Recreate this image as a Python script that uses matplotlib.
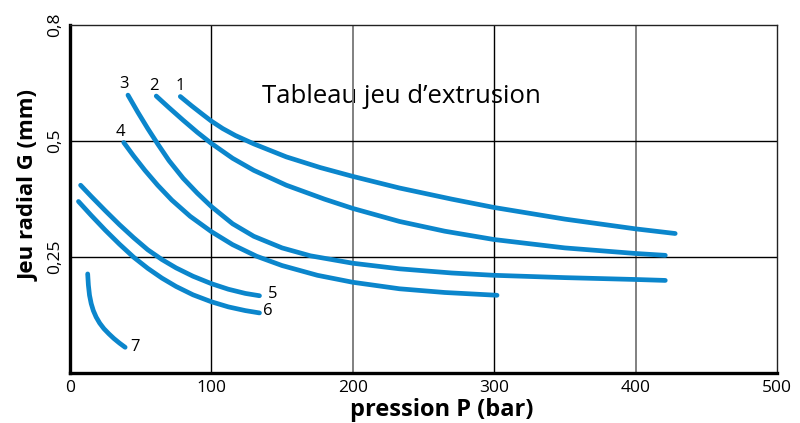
import matplotlib
matplotlib.use("Agg")
from matplotlib import pyplot as plt

plt.rcParams['font.family'] = ['Open Sans', 'DejaVu Sans']

# Curves (x = pression in bar, y = axis position)
c1_x = [78, 86, 94, 100, 108, 117, 130, 153, 177, 200, 233, 270, 300, 350, 400, 428]
c1_y = [0.596, 0.576, 0.557, 0.543, 0.527, 0.512, 0.494, 0.466, 0.443, 0.424,
        0.399, 0.375, 0.357, 0.332, 0.311, 0.301]
c2_x = [61, 70, 80, 90, 100, 115, 130, 153, 180, 200, 233, 265, 300, 350, 400, 421]
c2_y = [0.597, 0.572, 0.545, 0.519, 0.495, 0.463, 0.437, 0.405, 0.375, 0.355,
        0.327, 0.306, 0.288, 0.270, 0.258, 0.254]
c3_x = [41, 48, 55, 62, 70, 80, 90, 100, 115, 130, 150, 170, 200, 233, 270, 300, 350, 400, 421]
c3_y = [0.599, 0.562, 0.527, 0.494, 0.458, 0.420, 0.388, 0.359, 0.322, 0.295,
        0.270, 0.253, 0.237, 0.225, 0.216, 0.211, 0.206, 0.202, 0.200]
c4_x = [38, 45, 53, 62, 72, 85, 100, 115, 132, 150, 175, 200, 233, 265, 302]
c4_y = [0.497, 0.468, 0.437, 0.405, 0.373, 0.338, 0.305, 0.277, 0.252, 0.232,
        0.211, 0.196, 0.182, 0.174, 0.168]
c5_x = [7.5, 15, 25, 35, 45, 55, 65, 75, 87, 100, 112, 124, 134]
c5_y = [0.405, 0.381, 0.350, 0.320, 0.292, 0.266, 0.245, 0.227, 0.209, 0.193,
        0.181, 0.172, 0.167]
c6_x = [6, 15, 25, 35, 45, 55, 65, 75, 87, 100, 112, 124, 134]
c6_y = [0.370, 0.340, 0.308, 0.278, 0.250, 0.226, 0.205, 0.187, 0.169, 0.154,
        0.143, 0.135, 0.130]
c7_x = [12.5, 13.0, 13.8, 15, 16.5, 18.5, 21, 24, 27.5, 31, 35, 39]
c7_y = [0.214, 0.190, 0.168, 0.150, 0.135, 0.121, 0.108, 0.096, 0.085, 0.075,
        0.065, 0.056]

curves = [(c1_x, c1_y), (c2_x, c2_y), (c3_x, c3_y), (c4_x, c4_y),
          (c5_x, c5_y), (c6_x, c6_y), (c7_x, c7_y)]
curve_names = ['1', '2', '3', '4', '5', '6', '7']
label_pos = [(78, 0.619), (59, 0.619), (38.5, 0.623), (36, 0.52),
             (143, 0.171), (140, 0.134), (46, 0.057)]

x_ticks = [0, 100, 200, 300, 400, 500]
y_ticks = [0.25, 0.5, 0.75]
y_tick_labels = ['0,25', '0,5', '0,8']

fig = plt.figure(figsize=(8, 4.23), dpi=100)
ax = fig.add_axes([0.0875, 0.1175, 0.88375, 0.8234])

blue = '#0b86cc'

# grid: black at 100 / 300, grey at 200 / 400
for xv in x_ticks[1:-1]:
    col = 'black' if xv in (100, 300) else '#808080'
    lw = 1.0 if xv in (100, 300) else 1.4
    ax.axvline(xv, color=col, lw=lw, zorder=2)
for yv in y_ticks[:-1]:
    ax.axhline(yv, color='black', lw=1.0, zorder=2)

for (xs, ys) in curves:
    ax.plot(xs, ys, color=blue, lw=3.4, solid_capstyle='round',
            solid_joinstyle='round', zorder=3)

for name, (lx, ly) in zip(curve_names, label_pos):
    ax.text(lx, ly, name, fontsize=12, ha='center', va='center', zorder=4)

ax.text(136, 0.596, 'Tableau jeu d\u2019extrusion', fontsize=18.5,
        ha='left', va='center', zorder=1)

ax.set_xlim(0, 500)
ax.set_ylim(0, 0.75)
ax.set_xticks(x_ticks)
ax.set_xticklabels([str(v) for v in x_ticks], fontsize=12.5)
ax.set_yticks(y_ticks)
ax.set_yticklabels(y_tick_labels, fontsize=12.5, rotation=90, va='center')
ax.tick_params(length=0, pad=5)

ax.spines['left'].set_linewidth(2.4)
ax.spines['bottom'].set_linewidth(2.4)
ax.spines['top'].set_linewidth(1.0)
ax.spines['right'].set_linewidth(1.0)
ax.spines['top'].set_color('#222222')
ax.spines['right'].set_color('#222222')

ax.set_xlabel('pression P (bar)', fontsize=17, fontweight='bold', va='center')
ax.set_ylabel('Jeu radial G (mm)', fontsize=16, fontweight='bold')
ax.xaxis.set_label_coords(0.526, -0.106)
ax.yaxis.set_label_coords(-0.043, 0.539)

fig.savefig('out.png', dpi=100)
